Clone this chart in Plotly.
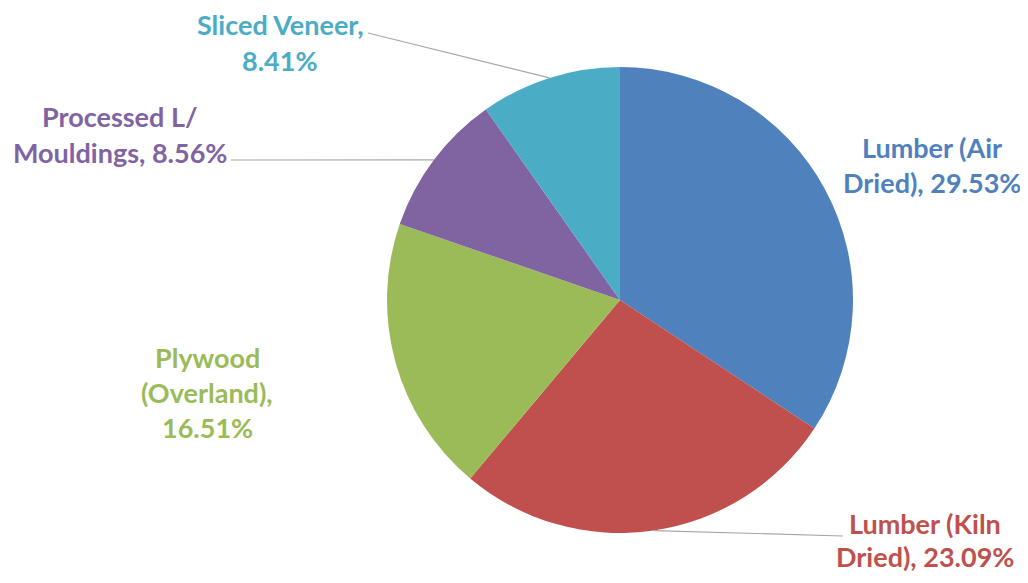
import numpy as np
import plotly.graph_objects as go

# data
categories = ["Lumber (Air Dried)", "Lumber (Kiln Dried)", "Plywood (Overland)",
              "Processed L/ Mouldings", "Sliced Veneer"]
shares = [29.53, 23.09, 16.51, 8.56, 8.41]
label_lines = [
    ["Lumber (Air", "Dried), 29.53%"],
    ["Lumber (Kiln", "Dried), 23.09%"],
    ["Plywood", "(Overland),", "16.51%"],
    ["Processed L/", "Mouldings, 8.56%"],
    ["Sliced Veneer,", "8.41%"],
]

colors = ["#4F81BD", "#C0504D", "#9BBB59", "#8064A2", "#4BACC6"]

# page body has an 8px margin, so the figure is drawn a bit smaller and offset
PAD = 8
W, H = 1028 - 2 * PAD, 583 - 2 * PAD
cx, cy, r = 620 - PAD, 300 - PAD, 233  # pie centre / radius in figure px

# label placement (page px): first-line centre, line gap, optional leader start
label_pos = [(932, 147), (925, 523), (207, 357), (120, 117), (280, 25)]
label_gap = [35, 33, 35, 35, 35]
leader_from = [None, (843, 536), None, (231, 160), (368, 33)]
font_name = "Lato"
font_size = 27


def px(x, y):
    return (x - PAD) / W, 1 - (y - PAD) / H


fig = go.Figure(
    go.Pie(
        labels=categories,
        values=shares,
        sort=False,
        direction="clockwise",
        rotation=0,
        marker=dict(colors=colors, line=dict(width=0)),
        textinfo="none",
        hoverinfo="label+value",
        domain=dict(x=[(cx - r) / W, (cx + r) / W], y=[1 - (cy + r) / H, 1 - (cy - r) / H]),
        showlegend=False,
    )
)

# leader lines go to the middle of each slice edge
fracs = np.array(shares) / np.sum(shares)
mids = np.cumsum(fracs) - fracs / 2
for i, start in enumerate(leader_from):
    if start is None:
        continue
    ang = 2 * np.pi * mids[i]
    ex, ey = cx + PAD + r * np.sin(ang), cy + PAD - r * np.cos(ang)
    x0, y0 = px(*start)
    x1, y1 = px(ex, ey)
    fig.add_shape(
        type="line", xref="paper", yref="paper",
        x0=x0, y0=y0, x1=x1, y1=y1,
        line=dict(color="#A6A6A6", width=1.2),
    )

for i, lines in enumerate(label_lines):
    lx, ly = label_pos[i]
    for j, txt in enumerate(lines):
        ax, ay = px(lx, ly + j * label_gap[i])
        fig.add_annotation(
            x=ax, y=ay, xref="paper", yref="paper",
            text=f"<b>{txt}</b>", showarrow=False, xanchor="center", yanchor="middle",
            font=dict(family=font_name, size=font_size, color=colors[i]),
        )

fig.update_layout(
    width=W, height=H,
    margin=dict(l=0, r=0, t=0, b=0),
    paper_bgcolor="white",
    plot_bgcolor="white",
)

fig.write_html("out.html")
